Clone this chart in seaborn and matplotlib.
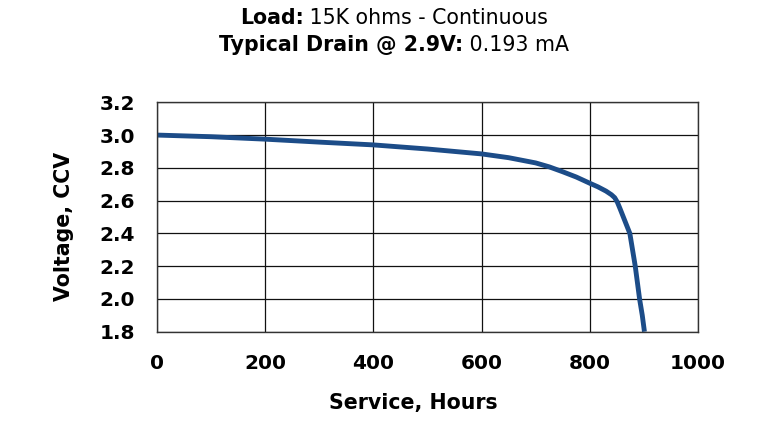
import matplotlib
matplotlib.use("Agg")
import matplotlib.pyplot as plt
import seaborn as sns
import pandas as pd

# ---- data ----
hours = [0, 100, 200, 300, 400, 500, 600, 650, 700, 725, 750, 775, 800, 815, 830, 840, 846, 851,
         856, 862, 868, 874, 879, 884, 888, 892, 897, 901]
volts = [3.00, 2.99, 2.975, 2.957, 2.94, 2.915, 2.885, 2.862, 2.83, 2.806, 2.776, 2.744, 2.706,
         2.684, 2.658, 2.636, 2.618, 2.59, 2.55, 2.50, 2.45, 2.40, 2.30, 2.20, 2.10, 2.00, 1.90, 1.80]
x_ticks = [0, 200, 400, 600, 800, 1000]
y_ticks = [1.8, 2.0, 2.2, 2.4, 2.6, 2.8, 3.0, 3.2]
title_bold = ["Load:", "Typical Drain @ 2.9V:"]
title_rest = [" 15K ohms - Continuous", " 0.193 mA"]
x_label = "Service, Hours"
y_label = "Voltage, CCV"

df = pd.DataFrame({"Hours": hours, "Voltage": volts})

sns.set_theme(style="white")
plt.rcParams["font.family"] = ["DejaVu Sans"]
plt.rcParams["text.color"] = "black"

W, H = 772, 422
fig = plt.figure(figsize=(W / 100, H / 100), dpi=100)
ax = fig.add_axes([157 / W, 1 - 331.7 / H, (698 - 157) / W, (331.7 - 102.3) / H])

sns.lineplot(data=df, x="Hours", y="Voltage", ax=ax, color="#1c4c88",
             linewidth=3.5, sort=False, solid_capstyle="butt", solid_joinstyle="round")

ax.set_xlim(0, 1000)
ax.set_ylim(1.8, 3.2)
ax.set_xticks(x_ticks)
ax.set_yticks(y_ticks)
ax.set_xticklabels([str(v) for v in x_ticks], fontweight="bold", fontsize=14.5)
ax.set_yticklabels([f"{v:.1f}" for v in y_ticks], fontweight="bold", fontsize=14.5)
ax.tick_params(length=0, pad=16, colors="black")
ax.grid(True, color="#111111", linewidth=0.9)
for s in ax.spines.values():
    s.set_color("#333333")
    s.set_linewidth(1.0)

ax.set_xlabel(x_label, fontweight="bold", fontsize=14.8, color="black")
ax.set_ylabel(y_label, fontweight="bold", fontsize=14.8, color="black")
ax.xaxis.label.set_va("center")
ax.yaxis.label.set_va("center")
ax.xaxis.set_label_coords((413 - 157) / (698 - 157), (331.7 - 403) / (331.7 - 102.3))
ax.yaxis.set_label_coords((64 - 157) / (698 - 157), (331.7 - 226) / (331.7 - 102.3))

# mixed-weight title lines
r = fig.canvas.get_renderer()
def mixed(yc, bold, rest, size, cx=394):
    t1 = fig.text(0, yc, bold, weight="bold", size=size, va="center", ha="left", color="black")
    t2 = fig.text(0, yc, rest, size=size, va="center", ha="left", color="black")
    w1 = t1.get_window_extent(r).width
    w2 = t2.get_window_extent(r).width
    x0 = cx - (w1 + w2) / 2
    t1.set_x(x0 / W)
    t2.set_x((x0 + w1) / W)

mixed(1 - 18 / H, title_bold[0], title_rest[0], 14.8)
mixed(1 - 45 / H, title_bold[1], title_rest[1], 14.8)

fig.savefig("out.png", dpi=100, facecolor="white")
